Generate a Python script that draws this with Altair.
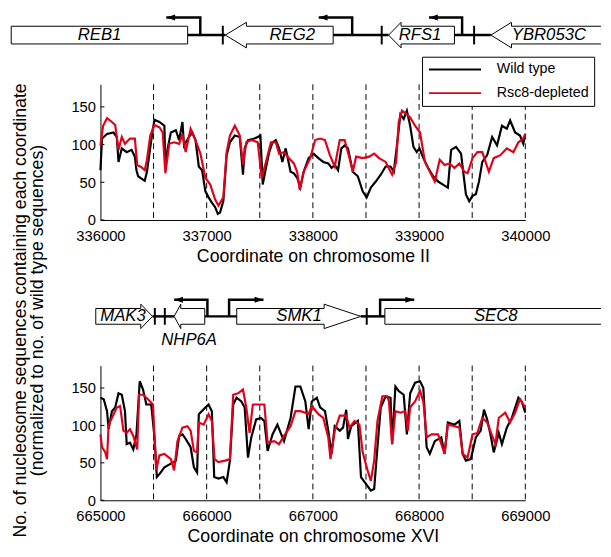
import altair as alt
import pandas as pd

FONT = "Liberation Sans"
RED = "#e3001b"
SERIES = ["Wild type", "Rsc8-depleted"]
YTITLE = ["No. of nucleosome sequences containing each coordinate",
          "(normalized to no. of wild type sequences)"]

# ---------------- chromosome II window (bp from window start) ----------------
c2_start = 336000
c2_wt_off = [0, 15, 62, 123, 154, 170, 201, 247, 293, 324, 339, 355, 386, 417, 438, 463, 494, 509,
             555, 602, 611, 633, 663, 710, 741, 772, 787, 833, 864, 895, 926, 957, 988, 1018, 1049,
             1080, 1105, 1126, 1157, 1188, 1219, 1265, 1312, 1342, 1358, 1389, 1450, 1481, 1506,
             1528, 1558, 1589, 1620, 1651, 1682, 1713, 1744, 1790, 1821, 1852, 1882, 1913, 1960,
             2006, 2052, 2098, 2145, 2176, 2206, 2237, 2268, 2299, 2330, 2376, 2423, 2469, 2506,
             2546, 2592, 2639, 2685, 2731, 2762, 2793, 2824, 2855, 2885, 2916, 2947, 2978, 3003,
             3040, 3086, 3132, 3179, 3225, 3271, 3302, 3348, 3395, 3441, 3472, 3503, 3534, 3564,
             3595, 3641, 3688, 3734, 3780, 3826, 3857, 3904, 3950, 3981, 4000]
c2_wt_val = [66, 108, 114, 116, 110, 77, 95, 90, 93, 84, 66, 58, 55, 52, 64, 90, 121, 133,
             130, 125, 73, 95, 116, 119, 106, 130, 99, 110, 116, 106, 71, 66, 38, 30, 23,
             17, 8, 10, 25, 86, 103, 112, 110, 60, 95, 106, 108, 110, 112,
             47, 69, 90, 103, 106, 95, 77, 95, 64, 62, 56, 43, 64, 82,
             88, 82, 77, 75, 69, 73, 66, 95, 99, 95, 64, 58, 38, 30,
             43, 51, 60, 71, 71, 64, 101, 140, 134, 145, 125, 97, 90, 95,
             82, 69, 58, 51, 47, 43, 93, 97, 88, 34, 25, 32, 34, 51,
             77, 86, 110, 99, 125, 121, 132, 116, 112, 101, 114]
c2_rsc_off = [0, 25, 62, 108, 139, 170, 201, 231, 278, 324, 346, 386, 417, 438, 469, 509, 555, 586,
              611, 648, 694, 741, 772, 802, 849, 895, 941, 988, 1034, 1080, 1111, 1157, 1188, 1219,
              1265, 1312, 1342, 1373, 1420, 1481, 1518, 1558, 1605, 1651, 1682, 1728, 1775, 1821,
              1852, 1876, 1913, 1975, 2021, 2068, 2114, 2160, 2206, 2253, 2299, 2345, 2376, 2407,
              2469, 2531, 2577, 2623, 2685, 2746, 2784, 2808, 2839, 2885, 2916, 2962, 3009, 3055,
              3101, 3148, 3194, 3240, 3287, 3333, 3379, 3426, 3456, 3503, 3549, 3595, 3626, 3657,
              3703, 3765, 3826, 3888, 3935, 3981, 4000]
c2_rsc_val = [99, 125, 135, 130, 126, 93, 110, 101, 108, 108, 73, 70, 66, 80, 112, 126, 123, 116,
              62, 101, 103, 101, 114, 90, 121, 106, 88, 56, 47, 27, 19, 30, 90, 112,
              125, 112, 73, 103, 106, 103, 56, 77, 103, 103, 88, 90, 82, 75,
              64, 40, 64, 82, 106, 108, 106, 86, 71, 106, 106, 82, 64, 84,
              82, 84, 88, 82, 77, 60, 77, 130, 145, 140, 136, 125, 116, 77,
              64, 51, 80, 73, 75, 69, 75, 64, 62, 82, 90, 90, 77, 64,
              82, 86, 95, 90, 103, 108, 114]

c2_gene_names = ["REB1", "REG2", "RFS1", "YBR053C"]
c2_gene_left = [335160, 337176, 338713, 339676]
c2_gene_right = [336821, 338191, 339333, 340712]
c2_gene_strand = ["-", "-", "-", "-"]
c2_gene_head = [0, 198, 117, 194]
c2_gene_open = ["none", "none", "none", "right"]
c2_label_at = [335991, 337806, 339009, 340222]
c2_label_below = [False, False, False, False]
c2_tss = [336940, 338370, 339405]
c2_tss_tip = [336620, 338055, 339093]
c2_bars = [337152, 338648, 339518]

# ---------------- chromosome XVI window ----------------
c16_start = 665000
c16_wt_off = [0, 31, 62, 77, 108, 139, 170, 201, 231, 247, 278, 309, 339, 370, 401, 432, 478, 509,
              531, 555, 602, 663, 710, 741, 772, 802, 849, 880, 910, 926, 988, 1018, 1049, 1071,
              1111, 1157, 1188, 1219, 1250, 1281, 1327, 1358, 1389, 1420, 1466, 1512, 1543, 1574,
              1620, 1666, 1728, 1790, 1836, 1882, 1929, 1960, 1990, 2037, 2068, 2114, 2145, 2176,
              2206, 2253, 2284, 2314, 2330, 2361, 2423, 2453, 2500, 2546, 2577, 2608, 2639, 2685,
              2731, 2746, 2777, 2808, 2855, 2885, 2916, 2962, 3009, 3040, 3071, 3101, 3148, 3209,
              3240, 3271, 3333, 3379, 3410, 3441, 3487, 3534, 3580, 3611, 3641, 3672, 3703, 3750,
              3780, 3826, 3873, 3935, 3966, 4000]
c16_wt_val = [137, 135, 119, 95, 119, 124, 143, 141, 119, 75, 77, 68, 88, 159, 148, 128, 128, 84,
              31, 35, 44, 49, 53, 86, 88, 82, 71, 44, 37, 115, 124, 128, 119, 31,
              29, 31, 24, 53, 128, 137, 132, 124, 57, 84, 108, 110, 106, 66,
              88, 101, 79, 110, 152, 152, 132, 95, 132, 137, 124, 119, 93, 62,
              99, 93, 97, 121, 82, 99, 106, 31, 22, 13, 15, 71, 124, 139,
              137, 75, 152, 146, 141, 88, 143, 157, 159, 150, 71, 62, 79, 84,
              62, 104, 101, 106, 62, 53, 55, 84, 93, 121, 108, 88, 64, 90,
              75, 97, 110, 137, 132, 117]
c16_rsc_off = [0, 15, 46, 62, 77, 108, 154, 185, 216, 247, 278, 309, 346, 364, 401, 447, 494, 525,
               555, 602, 663, 694, 725, 772, 818, 849, 880, 910, 926, 972, 1018, 1049, 1074, 1111,
               1173, 1219, 1250, 1296, 1342, 1373, 1404, 1435, 1481, 1543, 1574, 1636, 1682, 1728,
               1790, 1836, 1882, 1929, 1960, 1990, 2052, 2098, 2145, 2166, 2206, 2253, 2314, 2345,
               2392, 2438, 2469, 2515, 2546, 2577, 2608, 2654, 2700, 2716, 2746, 2777, 2824, 2870,
               2894, 2916, 2962, 3009, 3040, 3071, 3117, 3179, 3240, 3271, 3333, 3379, 3410, 3456,
               3503, 3549, 3595, 3641, 3688, 3719, 3750, 3811, 3857, 3904, 3950, 3981, 4000]
c16_rsc_val = [88, 71, 64, 55, 101, 110, 124, 126, 93, 90, 95, 86, 68, 141, 141, 135, 128, 40,
               60, 62, 55, 40, 79, 97, 99, 93, 66, 64, 104, 101, 115, 106, 55, 51,
               53, 55, 141, 143, 148, 124, 90, 128, 128, 128, 77, 79, 75, 86,
               99, 119, 119, 117, 115, 126, 115, 110, 84, 55, 93, 113, 113, 97,
               106, 101, 64, 40, 26, 53, 106, 139, 139, 132, 75, 119, 117, 119,
               93, 124, 132, 146, 132, 84, 88, 88, 62, 101, 99, 97, 62, 57,
               88, 90, 110, 104, 86, 75, 110, 117, 104, 117, 135, 128, 124]

c16_gene_names = ["MAK3", "NHP6A", "SMK1", "SEC8"]
c16_gene_left = [664956, 665694, 666283, 667678]
c16_gene_right = [665490, 665982, 667451, 669712]
c16_gene_strand = ["+", "-", "+", "+"]
c16_gene_head = [110, 62, 345, 0]
c16_gene_open = ["none", "none", "none", "right"]
c16_label_at = [665213, 665835, 666870, 668722]
c16_label_below = [False, True, False, False]
c16_tss = [666007, 666211, 667633]
c16_tss_tip = [665694, 666535, 667954]
c16_bars = [665512, 665606, 667507]

LEFT_HEAD = "M0,0L1,-0.34L1,0.34Z"
RIGHT_HEAD = "M0,0L-1,-0.34L-1,0.34Z"
YMAX = 180


def panel(start, wt_off, wt_val, rsc_off, rsc_val,
          names, left, right, strand, head, open_side, label_at, label_below,
          tss, tss_tip, bars, height, xtitle, label_pad, title_pad, ytitle, show_legend, geo):
    xs = alt.Scale(domain=[start, start + 4000], nice=False, zero=False)
    ys = alt.Scale(domain=[0, YMAX], nice=False, zero=False)
    cs = alt.Scale(domain=SERIES, range=["black", RED])

    # diagram drawn above the plot: pixel offsets from the diagram's centre line
    # converted into the panel's own y units
    k = height / YMAX
    gline = YMAX + geo["above"] / k

    def gy(px):
        return gline + px / k

    wt = pd.DataFrame({"pos": [start + o for o in wt_off], "val": wt_val, "series": SERIES[0]})
    rsc = pd.DataFrame({"pos": [start + o for o in rsc_off], "val": rsc_val, "series": SERIES[1]})
    dashes = pd.DataFrame({"pos": list(range(start + 500, start + 4001, 500))})
    yticks = pd.DataFrame({"val": [0, 50, 100, 150]})

    xaxis = alt.Axis(values=list(range(start, start + 4001, 1000)), format="d", tickSize=0,
                     labelPadding=label_pad, labelFontSize=15, title=xtitle, titleFontSize=18,
                     titleFontWeight="normal", titlePadding=title_pad, domainColor="black",
                     labelColor="black", titleColor="black", grid=False, labelFont=FONT,
                     titleFont=FONT, labelFlush=False, labelOverlap=False)
    yaxis = alt.Axis(values=[0, 50, 100, 150], tickSize=0, labelPadding=5, labelFontSize=15,
                     title="", domainColor="black", labelColor="black", grid=False,
                     labelFont=FONT, labelFlush=False, labelOverlap=False)

    if show_legend:
        leg = alt.Legend(title=None, orient="none", legendX=327, legendY=-28,
                         symbolType="stroke", symbolSize=2809, symbolStrokeWidth=2,
                         clipHeight=16, symbolOffset=1, labelOffset=15, padding=5, rowPadding=8,
                         labelFontSize=14.5, labelFont=FONT, labelColor="black",
                         strokeColor="black", fillColor="white", labelLimit=300)
    else:
        leg = None

    # every layer carries the same axis definition so the shared axis merges cleanly
    X = lambda f: alt.X(f, scale=xs, axis=xaxis)
    Y = lambda f: alt.Y(f, scale=ys, axis=yaxis)

    layers = []
    layers.append(alt.Chart(dashes).mark_rule(strokeDash=[6, 4], color="black", strokeWidth=1).encode(
        x=X("pos:Q")))
    layers.append(alt.Chart(yticks).mark_rule(color="black", strokeWidth=1).encode(
        y=Y("val:Q"), x=alt.value(0), x2=alt.value(4)))
    layers.append(alt.Chart(wt).mark_line(strokeWidth=2.2).encode(
        x=X("pos:Q"), y=Y("val:Q"), color=alt.Color("series:N", scale=cs, legend=leg)))
    layers.append(alt.Chart(rsc).mark_line(strokeWidth=2.2).encode(
        x=X("pos:Q"), y=Y("val:Q"), color=alt.Color("series:N", scale=cs, legend=leg)))

    # ---- gene diagram ----
    b, h = geo["b"], geo["h"]
    rows = []
    for n, l, r, s, hl, op in zip(names, left, right, strand, head, open_side):
        if hl == 0:
            if op == "right":
                pts = [(r, b), (l, b), (l, -b), (r, -b)]
            else:
                pts = [(l, b), (r, b), (r, -b), (l, -b), (l, b)]
        elif s == "+":
            hb = r - hl
            pts = [(l, b), (hb, b), (hb, h), (r, 0), (hb, -h), (hb, -b), (l, -b), (l, b)]
        else:
            hb = l + hl
            pts = [(r, b), (hb, b), (hb, h), (l, 0), (hb, -h), (hb, -b), (r, -b)]
            if op != "right":
                pts.append((r, b))
        for i, (x, y) in enumerate(pts):
            rows.append({"pos": x, "val": gy(y), "gene": n, "k": i})
    outl = pd.DataFrame(rows)

    spacer = pd.DataFrame({"pos": right[:-1], "pos2": left[1:], "val": [gy(0)] * (len(names) - 1)})
    prom_rows = []
    for i, (t, tp) in enumerate(zip(tss, tss_tip)):
        for j, (x, y) in enumerate([(t, 0), (t, geo["ph"]), (tp, geo["ph"])]):
            prom_rows.append({"pos": x, "val": gy(y), "p": i, "k": j})
    prom = pd.DataFrame(prom_rows)
    heads = pd.DataFrame({"pos": tss_tip, "val": [gy(geo["ph"])] * len(tss),
                          "dir": ["left" if tp < t else "right" for t, tp in zip(tss, tss_tip)]})
    bar_df = pd.DataFrame({"pos": bars, "val": [gy(-geo["t"])] * len(bars),
                           "val2": [gy(geo["t"])] * len(bars)})
    labels = pd.DataFrame({"pos": label_at, "name": names,
                           "val": [gy(geo["below"]) if bl else gy(0) for bl in label_below]})

    layers.append(alt.Chart(spacer).mark_rule(color="black", strokeWidth=2.5).encode(
        x=X("pos:Q"), x2="pos2:Q", y=Y("val:Q")))
    layers.append(alt.Chart(prom).mark_line(color="black", strokeWidth=2.5, strokeJoin="miter").encode(
        x=X("pos:Q"), y=Y("val:Q"), detail="p:N", order=alt.Order("k:Q")))
    layers.append(alt.Chart(heads).mark_point(filled=True, size=324, color="black", opacity=1,
                                              strokeWidth=0).encode(
        x=X("pos:Q"), y=Y("val:Q"),
        shape=alt.Shape("dir:N", scale=alt.Scale(domain=["left", "right"],
                                                 range=[LEFT_HEAD, RIGHT_HEAD]), legend=None)))
    layers.append(alt.Chart(bar_df).mark_rule(color="black", strokeWidth=2).encode(
        x=X("pos:Q"), y=Y("val:Q"), y2="val2:Q"))
    layers.append(alt.Chart(outl).mark_line(color="black", strokeWidth=1, strokeJoin="miter").encode(
        x=X("pos:Q"), y=Y("val:Q"), detail="gene:N", order=alt.Order("k:Q")))
    layers.append(alt.Chart(labels).mark_text(font=FONT, fontStyle="italic", fontSize=17,
                                              color="black", align="center",
                                              baseline="middle").encode(
        x=X("pos:Q"), y=Y("val:Q"), text="name:N"))

    # shared y-axis title for both panels (two single lines, rotated)
    if ytitle:
        for line, xoff in zip(ytitle, geo["ytitle_x"]):
            layers.append(alt.Chart(pd.DataFrame({"t": [line]})).mark_text(
                font=FONT, fontSize=18, color="black", angle=270, align="center",
                baseline="middle").encode(text="t:N", x=alt.value(xoff),
                                          y=alt.value(geo["ytitle_y"])))

    return alt.layer(*layers).properties(width=432, height=height)


top = panel(c2_start, c2_wt_off, c2_wt_val, c2_rsc_off, c2_rsc_val,
            c2_gene_names, c2_gene_left, c2_gene_right, c2_gene_strand, c2_gene_head, c2_gene_open,
            c2_label_at, c2_label_below, c2_tss, c2_tss_tip, c2_bars,
            138, "Coordinate on chromosome II", 9, 4, YTITLE, True,
            {"above": 50, "b": 9, "h": 13, "ph": 18, "t": 9.5, "below": -24,
             "ytitle_x": [-81, -63], "ytitle_y": 230})
bottom = panel(c16_start, c16_wt_off, c16_wt_val, c16_rsc_off, c16_rsc_val,
               c16_gene_names, c16_gene_left, c16_gene_right, c16_gene_strand, c16_gene_head,
               c16_gene_open, c16_label_at, c16_label_below, c16_tss, c16_tss_tip, c16_bars,
               137, "Coordinate on chromosome XVI", 9, 4, None, False,
               {"above": 50, "b": 8, "h": 12.4, "ph": 17, "t": 8.5, "below": -24.5})

chart = alt.vconcat(top, bottom, spacing=148, bounds="flush").resolve_scale(
    color="independent", shape="independent").properties(
    padding={"left": 1, "top": 0, "right": 0, "bottom": 0}
).configure(font=FONT).configure_view(stroke=None)

chart.save("out.html", embed_options={"renderer": "svg", "actions": False})
